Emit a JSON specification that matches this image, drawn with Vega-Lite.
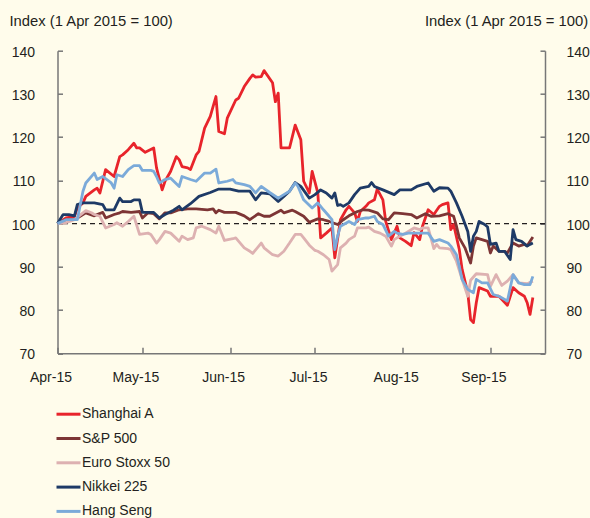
{
  "$schema": "https://vega.github.io/schema/vega-lite/v6.json",
  "width": 487.5,
  "height": 302.6,
  "autosize": "none",
  "padding": {"left": 57.5, "top": 50.7, "right": 45, "bottom": 164.7},
  "background": "#FFFCEB",
  "config": {
    "font": "Liberation Sans",
    "view": {"stroke": null},
    "axis": {"labelFontSize": 14, "labelColor": "#231F20", "titleFontSize": 14.8, "titleFontWeight": "normal", "titleColor": "#231F20", "domainColor": "#777777", "domainWidth": 1.5, "tickColor": "#777777", "tickWidth": 1.5, "grid": false}
  },
  "data": {"values": [
    {"date":"2015-04-01","series":"Shanghai A","value":100},
    {"date":"2015-04-04","series":"Shanghai A","value":101.3},
    {"date":"2015-04-07","series":"Shanghai A","value":101.7},
    {"date":"2015-04-08","series":"Shanghai A","value":103.6},
    {"date":"2015-04-10","series":"Shanghai A","value":104.8},
    {"date":"2015-04-11","series":"Shanghai A","value":106.3},
    {"date":"2015-04-14","series":"Shanghai A","value":107.8},
    {"date":"2015-04-15","series":"Shanghai A","value":108.2},
    {"date":"2015-04-16","series":"Shanghai A","value":107.1},
    {"date":"2015-04-18","series":"Shanghai A","value":112.5},
    {"date":"2015-04-21","series":"Shanghai A","value":110.9},
    {"date":"2015-04-23","series":"Shanghai A","value":115.5},
    {"date":"2015-04-24","series":"Shanghai A","value":115.9},
    {"date":"2015-04-26","series":"Shanghai A","value":117.1},
    {"date":"2015-04-28","series":"Shanghai A","value":118.6},
    {"date":"2015-04-29","series":"Shanghai A","value":117.5},
    {"date":"2015-04-30","series":"Shanghai A","value":117.5},
    {"date":"2015-05-02","series":"Shanghai A","value":116.5},
    {"date":"2015-05-05","series":"Shanghai A","value":117.5},
    {"date":"2015-05-06","series":"Shanghai A","value":112.9},
    {"date":"2015-05-08","series":"Shanghai A","value":107.8},
    {"date":"2015-05-09","series":"Shanghai A","value":109.8},
    {"date":"2015-05-11","series":"Shanghai A","value":112.1},
    {"date":"2015-05-13","series":"Shanghai A","value":115.5},
    {"date":"2015-05-14","series":"Shanghai A","value":114.8},
    {"date":"2015-05-15","series":"Shanghai A","value":113.2},
    {"date":"2015-05-17","series":"Shanghai A","value":112.9},
    {"date":"2015-05-18","series":"Shanghai A","value":112.5},
    {"date":"2015-05-20","series":"Shanghai A","value":115.9},
    {"date":"2015-05-21","series":"Shanghai A","value":116.7},
    {"date":"2015-05-23","series":"Shanghai A","value":122.1},
    {"date":"2015-05-25","series":"Shanghai A","value":124.8},
    {"date":"2015-05-26","series":"Shanghai A","value":127.1},
    {"date":"2015-05-27","series":"Shanghai A","value":129.4},
    {"date":"2015-05-28","series":"Shanghai A","value":121.3},
    {"date":"2015-05-30","series":"Shanghai A","value":120.8},
    {"date":"2015-05-31","series":"Shanghai A","value":124.4},
    {"date":"2015-06-03","series":"Shanghai A","value":128.6},
    {"date":"2015-06-04","series":"Shanghai A","value":129},
    {"date":"2015-06-06","series":"Shanghai A","value":131.7},
    {"date":"2015-06-08","series":"Shanghai A","value":133.6},
    {"date":"2015-06-09","series":"Shanghai A","value":134.4},
    {"date":"2015-06-10","series":"Shanghai A","value":133.9},
    {"date":"2015-06-12","series":"Shanghai A","value":134},
    {"date":"2015-06-13","series":"Shanghai A","value":135.4},
    {"date":"2015-06-16","series":"Shanghai A","value":132.6},
    {"date":"2015-06-17","series":"Shanghai A","value":128.2},
    {"date":"2015-06-18","series":"Shanghai A","value":130.2},
    {"date":"2015-06-19","series":"Shanghai A","value":117.5},
    {"date":"2015-06-22","series":"Shanghai A","value":117.5},
    {"date":"2015-06-24","series":"Shanghai A","value":122.8},
    {"date":"2015-06-26","series":"Shanghai A","value":119.4},
    {"date":"2015-06-27","series":"Shanghai A","value":109.8},
    {"date":"2015-06-29","series":"Shanghai A","value":107.1},
    {"date":"2015-06-30","series":"Shanghai A","value":112.1},
    {"date":"2015-07-02","series":"Shanghai A","value":107.1},
    {"date":"2015-07-03","series":"Shanghai A","value":96.7},
    {"date":"2015-07-05","series":"Shanghai A","value":97.8},
    {"date":"2015-07-07","series":"Shanghai A","value":99},
    {"date":"2015-07-08","series":"Shanghai A","value":92.1},
    {"date":"2015-07-10","series":"Shanghai A","value":100.9},
    {"date":"2015-07-12","series":"Shanghai A","value":103.2},
    {"date":"2015-07-13","series":"Shanghai A","value":104},
    {"date":"2015-07-15","series":"Shanghai A","value":102.5},
    {"date":"2015-07-16","series":"Shanghai A","value":100.5},
    {"date":"2015-07-17","series":"Shanghai A","value":102.8},
    {"date":"2015-07-19","series":"Shanghai A","value":104},
    {"date":"2015-07-20","series":"Shanghai A","value":104.8},
    {"date":"2015-07-22","series":"Shanghai A","value":105.5},
    {"date":"2015-07-23","series":"Shanghai A","value":108},
    {"date":"2015-07-25","series":"Shanghai A","value":105.5},
    {"date":"2015-07-26","series":"Shanghai A","value":100.5},
    {"date":"2015-07-28","series":"Shanghai A","value":96.3},
    {"date":"2015-07-30","series":"Shanghai A","value":99.4},
    {"date":"2015-07-31","series":"Shanghai A","value":96.7},
    {"date":"2015-08-02","series":"Shanghai A","value":95.9},
    {"date":"2015-08-04","series":"Shanghai A","value":94.9},
    {"date":"2015-08-05","series":"Shanghai A","value":97.9},
    {"date":"2015-08-07","series":"Shanghai A","value":96.3},
    {"date":"2015-08-08","series":"Shanghai A","value":99.4},
    {"date":"2015-08-10","series":"Shanghai A","value":103.2},
    {"date":"2015-08-12","series":"Shanghai A","value":102.1},
    {"date":"2015-08-14","series":"Shanghai A","value":104},
    {"date":"2015-08-15","series":"Shanghai A","value":104.4},
    {"date":"2015-08-17","series":"Shanghai A","value":104.8},
    {"date":"2015-08-18","series":"Shanghai A","value":98.6},
    {"date":"2015-08-19","series":"Shanghai A","value":99.8},
    {"date":"2015-08-21","series":"Shanghai A","value":94},
    {"date":"2015-08-22","series":"Shanghai A","value":89.4},
    {"date":"2015-08-24","series":"Shanghai A","value":84},
    {"date":"2015-08-25","series":"Shanghai A","value":77.8},
    {"date":"2015-08-26","series":"Shanghai A","value":77.1},
    {"date":"2015-08-27","series":"Shanghai A","value":81.7},
    {"date":"2015-08-28","series":"Shanghai A","value":85.2},
    {"date":"2015-08-31","series":"Shanghai A","value":84.4},
    {"date":"2015-09-01","series":"Shanghai A","value":83.2},
    {"date":"2015-09-04","series":"Shanghai A","value":83.2},
    {"date":"2015-09-05","series":"Shanghai A","value":82.5},
    {"date":"2015-09-07","series":"Shanghai A","value":81.1},
    {"date":"2015-09-09","series":"Shanghai A","value":85.2},
    {"date":"2015-09-11","series":"Shanghai A","value":84},
    {"date":"2015-09-13","series":"Shanghai A","value":83.2},
    {"date":"2015-09-14","series":"Shanghai A","value":81.7},
    {"date":"2015-09-15","series":"Shanghai A","value":79},
    {"date":"2015-09-16","series":"Shanghai A","value":82.9},

    {"date":"2015-04-01","series":"S&P 500","value":100},
    {"date":"2015-04-04","series":"S&P 500","value":100.9},
    {"date":"2015-04-07","series":"S&P 500","value":100.9},
    {"date":"2015-04-10","series":"S&P 500","value":102.1},
    {"date":"2015-04-11","series":"S&P 500","value":102.5},
    {"date":"2015-04-14","series":"S&P 500","value":101.8},
    {"date":"2015-04-15","series":"S&P 500","value":102.1},
    {"date":"2015-04-17","series":"S&P 500","value":102.6},
    {"date":"2015-04-18","series":"S&P 500","value":101.3},
    {"date":"2015-04-21","series":"S&P 500","value":102.1},
    {"date":"2015-04-23","series":"S&P 500","value":102.5},
    {"date":"2015-04-24","series":"S&P 500","value":102.8},
    {"date":"2015-04-27","series":"S&P 500","value":102.6},
    {"date":"2015-04-30","series":"S&P 500","value":102.8},
    {"date":"2015-05-01","series":"S&P 500","value":101.3},
    {"date":"2015-05-03","series":"S&P 500","value":102.5},
    {"date":"2015-05-05","series":"S&P 500","value":102.3},
    {"date":"2015-05-07","series":"S&P 500","value":101.1},
    {"date":"2015-05-09","series":"S&P 500","value":102.5},
    {"date":"2015-05-11","series":"S&P 500","value":102.5},
    {"date":"2015-05-14","series":"S&P 500","value":103.2},
    {"date":"2015-05-17","series":"S&P 500","value":103.4},
    {"date":"2015-05-20","series":"S&P 500","value":103.4},
    {"date":"2015-05-24","series":"S&P 500","value":103.2},
    {"date":"2015-05-26","series":"S&P 500","value":103.4},
    {"date":"2015-05-27","series":"S&P 500","value":102.5},
    {"date":"2015-05-28","series":"S&P 500","value":103.1},
    {"date":"2015-05-30","series":"S&P 500","value":102.6},
    {"date":"2015-06-03","series":"S&P 500","value":102.6},
    {"date":"2015-06-06","series":"S&P 500","value":101.8},
    {"date":"2015-06-08","series":"S&P 500","value":100.9},
    {"date":"2015-06-11","series":"S&P 500","value":102.3},
    {"date":"2015-06-13","series":"S&P 500","value":101.7},
    {"date":"2015-06-15","series":"S&P 500","value":101.7},
    {"date":"2015-06-19","series":"S&P 500","value":103.1},
    {"date":"2015-06-20","series":"S&P 500","value":102.5},
    {"date":"2015-06-23","series":"S&P 500","value":103.1},
    {"date":"2015-06-24","series":"S&P 500","value":102.8},
    {"date":"2015-06-27","series":"S&P 500","value":101.7},
    {"date":"2015-06-29","series":"S&P 500","value":100.3},
    {"date":"2015-07-02","series":"S&P 500","value":101.1},
    {"date":"2015-07-04","series":"S&P 500","value":100.9},
    {"date":"2015-07-06","series":"S&P 500","value":100.5},
    {"date":"2015-07-09","series":"S&P 500","value":99.8},
    {"date":"2015-07-11","series":"S&P 500","value":100.9},
    {"date":"2015-07-13","series":"S&P 500","value":101.8},
    {"date":"2015-07-16","series":"S&P 500","value":102.8},
    {"date":"2015-07-18","series":"S&P 500","value":103.2},
    {"date":"2015-07-20","series":"S&P 500","value":103.1},
    {"date":"2015-07-23","series":"S&P 500","value":102.5},
    {"date":"2015-07-25","series":"S&P 500","value":101.1},
    {"date":"2015-07-27","series":"S&P 500","value":100.9},
    {"date":"2015-07-29","series":"S&P 500","value":102.5},
    {"date":"2015-08-01","series":"S&P 500","value":102.3},
    {"date":"2015-08-04","series":"S&P 500","value":102.1},
    {"date":"2015-08-06","series":"S&P 500","value":101.3},
    {"date":"2015-08-09","series":"S&P 500","value":102.3},
    {"date":"2015-08-11","series":"S&P 500","value":101.7},
    {"date":"2015-08-14","series":"S&P 500","value":101.8},
    {"date":"2015-08-17","series":"S&P 500","value":102.3},
    {"date":"2015-08-19","series":"S&P 500","value":101.7},
    {"date":"2015-08-20","series":"S&P 500","value":99.4},
    {"date":"2015-08-21","series":"S&P 500","value":96.7},
    {"date":"2015-08-23","series":"S&P 500","value":94.4},
    {"date":"2015-08-25","series":"S&P 500","value":90.9},
    {"date":"2015-08-26","series":"S&P 500","value":94.8},
    {"date":"2015-08-27","series":"S&P 500","value":96.7},
    {"date":"2015-08-29","series":"S&P 500","value":96.3},
    {"date":"2015-08-31","series":"S&P 500","value":95.9},
    {"date":"2015-09-01","series":"S&P 500","value":93.2},
    {"date":"2015-09-02","series":"S&P 500","value":94.8},
    {"date":"2015-09-04","series":"S&P 500","value":93.6},
    {"date":"2015-09-06","series":"S&P 500","value":93.6},
    {"date":"2015-09-07","series":"S&P 500","value":93.2},
    {"date":"2015-09-09","series":"S&P 500","value":95.5},
    {"date":"2015-09-11","series":"S&P 500","value":94.8},
    {"date":"2015-09-13","series":"S&P 500","value":95.2},
    {"date":"2015-09-14","series":"S&P 500","value":94.9},
    {"date":"2015-09-16","series":"S&P 500","value":96.9},

    {"date":"2015-04-01","series":"Euro Stoxx 50","value":100},
    {"date":"2015-04-04","series":"Euro Stoxx 50","value":100.2},
    {"date":"2015-04-07","series":"Euro Stoxx 50","value":100.9},
    {"date":"2015-04-10","series":"Euro Stoxx 50","value":102.5},
    {"date":"2015-04-11","series":"Euro Stoxx 50","value":103},
    {"date":"2015-04-13","series":"Euro Stoxx 50","value":102.5},
    {"date":"2015-04-14","series":"Euro Stoxx 50","value":102.1},
    {"date":"2015-04-16","series":"Euro Stoxx 50","value":101.7},
    {"date":"2015-04-18","series":"Euro Stoxx 50","value":99},
    {"date":"2015-04-21","series":"Euro Stoxx 50","value":99.8},
    {"date":"2015-04-22","series":"Euro Stoxx 50","value":100.2},
    {"date":"2015-04-24","series":"Euro Stoxx 50","value":99.4},
    {"date":"2015-04-26","series":"Euro Stoxx 50","value":100.5},
    {"date":"2015-04-28","series":"Euro Stoxx 50","value":101.7},
    {"date":"2015-04-30","series":"Euro Stoxx 50","value":97.5},
    {"date":"2015-05-03","series":"Euro Stoxx 50","value":97.8},
    {"date":"2015-05-04","series":"Euro Stoxx 50","value":97.5},
    {"date":"2015-05-06","series":"Euro Stoxx 50","value":95.5},
    {"date":"2015-05-07","series":"Euro Stoxx 50","value":96.3},
    {"date":"2015-05-09","series":"Euro Stoxx 50","value":98.2},
    {"date":"2015-05-11","series":"Euro Stoxx 50","value":97.8},
    {"date":"2015-05-14","series":"Euro Stoxx 50","value":95.9},
    {"date":"2015-05-15","series":"Euro Stoxx 50","value":97.1},
    {"date":"2015-05-17","series":"Euro Stoxx 50","value":96.3},
    {"date":"2015-05-19","series":"Euro Stoxx 50","value":96.7},
    {"date":"2015-05-20","series":"Euro Stoxx 50","value":99},
    {"date":"2015-05-22","series":"Euro Stoxx 50","value":99.4},
    {"date":"2015-05-25","series":"Euro Stoxx 50","value":98.6},
    {"date":"2015-05-27","series":"Euro Stoxx 50","value":97.8},
    {"date":"2015-05-28","series":"Euro Stoxx 50","value":99.4},
    {"date":"2015-05-30","series":"Euro Stoxx 50","value":96.1},
    {"date":"2015-06-02","series":"Euro Stoxx 50","value":96.5},
    {"date":"2015-06-03","series":"Euro Stoxx 50","value":96.7},
    {"date":"2015-06-06","series":"Euro Stoxx 50","value":94.4},
    {"date":"2015-06-08","series":"Euro Stoxx 50","value":93.6},
    {"date":"2015-06-09","series":"Euro Stoxx 50","value":93.1},
    {"date":"2015-06-12","series":"Euro Stoxx 50","value":95.5},
    {"date":"2015-06-13","series":"Euro Stoxx 50","value":94.4},
    {"date":"2015-06-16","series":"Euro Stoxx 50","value":92.8},
    {"date":"2015-06-18","series":"Euro Stoxx 50","value":92.5},
    {"date":"2015-06-20","series":"Euro Stoxx 50","value":93.6},
    {"date":"2015-06-22","series":"Euro Stoxx 50","value":95.5},
    {"date":"2015-06-24","series":"Euro Stoxx 50","value":97.5},
    {"date":"2015-06-26","series":"Euro Stoxx 50","value":97.5},
    {"date":"2015-06-27","series":"Euro Stoxx 50","value":96.7},
    {"date":"2015-06-29","series":"Euro Stoxx 50","value":95},
    {"date":"2015-07-01","series":"Euro Stoxx 50","value":93.8},
    {"date":"2015-07-02","series":"Euro Stoxx 50","value":93.6},
    {"date":"2015-07-04","series":"Euro Stoxx 50","value":92.8},
    {"date":"2015-07-06","series":"Euro Stoxx 50","value":91.7},
    {"date":"2015-07-07","series":"Euro Stoxx 50","value":89},
    {"date":"2015-07-09","series":"Euro Stoxx 50","value":90.5},
    {"date":"2015-07-10","series":"Euro Stoxx 50","value":94.4},
    {"date":"2015-07-12","series":"Euro Stoxx 50","value":95.5},
    {"date":"2015-07-13","series":"Euro Stoxx 50","value":96.3},
    {"date":"2015-07-15","series":"Euro Stoxx 50","value":97.1},
    {"date":"2015-07-16","series":"Euro Stoxx 50","value":99},
    {"date":"2015-07-19","series":"Euro Stoxx 50","value":99},
    {"date":"2015-07-20","series":"Euro Stoxx 50","value":99.2},
    {"date":"2015-07-22","series":"Euro Stoxx 50","value":98.2},
    {"date":"2015-07-24","series":"Euro Stoxx 50","value":97.8},
    {"date":"2015-07-26","series":"Euro Stoxx 50","value":97.1},
    {"date":"2015-07-28","series":"Euro Stoxx 50","value":94.8},
    {"date":"2015-07-29","series":"Euro Stoxx 50","value":96.3},
    {"date":"2015-07-31","series":"Euro Stoxx 50","value":97.1},
    {"date":"2015-08-02","series":"Euro Stoxx 50","value":97.8},
    {"date":"2015-08-05","series":"Euro Stoxx 50","value":99},
    {"date":"2015-08-07","series":"Euro Stoxx 50","value":98.6},
    {"date":"2015-08-08","series":"Euro Stoxx 50","value":99},
    {"date":"2015-08-10","series":"Euro Stoxx 50","value":99},
    {"date":"2015-08-12","series":"Euro Stoxx 50","value":94.2},
    {"date":"2015-08-13","series":"Euro Stoxx 50","value":95.2},
    {"date":"2015-08-14","series":"Euro Stoxx 50","value":94.4},
    {"date":"2015-08-17","series":"Euro Stoxx 50","value":94.2},
    {"date":"2015-08-18","series":"Euro Stoxx 50","value":94},
    {"date":"2015-08-20","series":"Euro Stoxx 50","value":91.3},
    {"date":"2015-08-22","series":"Euro Stoxx 50","value":87.1},
    {"date":"2015-08-24","series":"Euro Stoxx 50","value":83.2},
    {"date":"2015-08-25","series":"Euro Stoxx 50","value":86.9},
    {"date":"2015-08-27","series":"Euro Stoxx 50","value":88.4},
    {"date":"2015-08-31","series":"Euro Stoxx 50","value":88.2},
    {"date":"2015-09-01","series":"Euro Stoxx 50","value":85.5},
    {"date":"2015-09-03","series":"Euro Stoxx 50","value":88.2},
    {"date":"2015-09-05","series":"Euro Stoxx 50","value":85.7},
    {"date":"2015-09-07","series":"Euro Stoxx 50","value":86.7},
    {"date":"2015-09-09","series":"Euro Stoxx 50","value":88.2},
    {"date":"2015-09-11","series":"Euro Stoxx 50","value":86.3},
    {"date":"2015-09-14","series":"Euro Stoxx 50","value":86.1},
    {"date":"2015-09-16","series":"Euro Stoxx 50","value":86.7},

    {"date":"2015-04-01","series":"Nikkei 225","value":100},
    {"date":"2015-04-03","series":"Nikkei 225","value":102.1},
    {"date":"2015-04-05","series":"Nikkei 225","value":102.1},
    {"date":"2015-04-07","series":"Nikkei 225","value":101.8},
    {"date":"2015-04-08","series":"Nikkei 225","value":104.4},
    {"date":"2015-04-10","series":"Nikkei 225","value":104.8},
    {"date":"2015-04-14","series":"Nikkei 225","value":104.8},
    {"date":"2015-04-17","series":"Nikkei 225","value":104.4},
    {"date":"2015-04-18","series":"Nikkei 225","value":103.2},
    {"date":"2015-04-21","series":"Nikkei 225","value":103.2},
    {"date":"2015-04-23","series":"Nikkei 225","value":105.9},
    {"date":"2015-04-24","series":"Nikkei 225","value":105.1},
    {"date":"2015-04-27","series":"Nikkei 225","value":105.1},
    {"date":"2015-04-28","series":"Nikkei 225","value":105.5},
    {"date":"2015-04-30","series":"Nikkei 225","value":105.5},
    {"date":"2015-05-01","series":"Nikkei 225","value":102.6},
    {"date":"2015-05-05","series":"Nikkei 225","value":102.6},
    {"date":"2015-05-07","series":"Nikkei 225","value":101.3},
    {"date":"2015-05-09","series":"Nikkei 225","value":102.1},
    {"date":"2015-05-12","series":"Nikkei 225","value":103.1},
    {"date":"2015-05-14","series":"Nikkei 225","value":104},
    {"date":"2015-05-15","series":"Nikkei 225","value":103.2},
    {"date":"2015-05-18","series":"Nikkei 225","value":104.6},
    {"date":"2015-05-21","series":"Nikkei 225","value":106.3},
    {"date":"2015-05-25","series":"Nikkei 225","value":107.2},
    {"date":"2015-05-28","series":"Nikkei 225","value":108},
    {"date":"2015-06-01","series":"Nikkei 225","value":108},
    {"date":"2015-06-04","series":"Nikkei 225","value":107.5},
    {"date":"2015-06-08","series":"Nikkei 225","value":107.5},
    {"date":"2015-06-10","series":"Nikkei 225","value":105.5},
    {"date":"2015-06-12","series":"Nikkei 225","value":107.1},
    {"date":"2015-06-15","series":"Nikkei 225","value":106.9},
    {"date":"2015-06-18","series":"Nikkei 225","value":105.1},
    {"date":"2015-06-20","series":"Nikkei 225","value":106.3},
    {"date":"2015-06-22","series":"Nikkei 225","value":107.5},
    {"date":"2015-06-24","series":"Nikkei 225","value":109.5},
    {"date":"2015-06-26","series":"Nikkei 225","value":108.6},
    {"date":"2015-06-29","series":"Nikkei 225","value":105.9},
    {"date":"2015-07-01","series":"Nikkei 225","value":106.7},
    {"date":"2015-07-03","series":"Nikkei 225","value":107.8},
    {"date":"2015-07-05","series":"Nikkei 225","value":107.1},
    {"date":"2015-07-07","series":"Nikkei 225","value":105.9},
    {"date":"2015-07-08","series":"Nikkei 225","value":107.1},
    {"date":"2015-07-09","series":"Nikkei 225","value":104.2},
    {"date":"2015-07-10","series":"Nikkei 225","value":104.4},
    {"date":"2015-07-11","series":"Nikkei 225","value":104},
    {"date":"2015-07-13","series":"Nikkei 225","value":104.8},
    {"date":"2015-07-15","series":"Nikkei 225","value":106.7},
    {"date":"2015-07-17","series":"Nikkei 225","value":108.2},
    {"date":"2015-07-20","series":"Nikkei 225","value":108.6},
    {"date":"2015-07-21","series":"Nikkei 225","value":109.5},
    {"date":"2015-07-22","series":"Nikkei 225","value":108.6},
    {"date":"2015-07-25","series":"Nikkei 225","value":107.8},
    {"date":"2015-07-29","series":"Nikkei 225","value":106.7},
    {"date":"2015-07-31","series":"Nikkei 225","value":107.8},
    {"date":"2015-08-04","series":"Nikkei 225","value":107.8},
    {"date":"2015-08-06","series":"Nikkei 225","value":108.6},
    {"date":"2015-08-10","series":"Nikkei 225","value":109.4},
    {"date":"2015-08-12","series":"Nikkei 225","value":107.5},
    {"date":"2015-08-14","series":"Nikkei 225","value":108.3},
    {"date":"2015-08-17","series":"Nikkei 225","value":108.2},
    {"date":"2015-08-18","series":"Nikkei 225","value":107.5},
    {"date":"2015-08-20","series":"Nikkei 225","value":104.8},
    {"date":"2015-08-22","series":"Nikkei 225","value":101.7},
    {"date":"2015-08-24","series":"Nikkei 225","value":98.2},
    {"date":"2015-08-25","series":"Nikkei 225","value":93.6},
    {"date":"2015-08-26","series":"Nikkei 225","value":97.1},
    {"date":"2015-08-27","series":"Nikkei 225","value":98.2},
    {"date":"2015-08-28","series":"Nikkei 225","value":100.5},
    {"date":"2015-08-30","series":"Nikkei 225","value":99.8},
    {"date":"2015-08-31","series":"Nikkei 225","value":99.2},
    {"date":"2015-09-01","series":"Nikkei 225","value":95.2},
    {"date":"2015-09-03","series":"Nikkei 225","value":95.5},
    {"date":"2015-09-04","series":"Nikkei 225","value":93.6},
    {"date":"2015-09-06","series":"Nikkei 225","value":93.6},
    {"date":"2015-09-08","series":"Nikkei 225","value":91.7},
    {"date":"2015-09-09","series":"Nikkei 225","value":98.6},
    {"date":"2015-09-10","series":"Nikkei 225","value":96.3},
    {"date":"2015-09-12","series":"Nikkei 225","value":95.9},
    {"date":"2015-09-14","series":"Nikkei 225","value":94.8},
    {"date":"2015-09-15","series":"Nikkei 225","value":95.2},
    {"date":"2015-09-16","series":"Nikkei 225","value":95.5},

    {"date":"2015-04-01","series":"Hang Seng","value":100},
    {"date":"2015-04-04","series":"Hang Seng","value":100.9},
    {"date":"2015-04-08","series":"Hang Seng","value":100.9},
    {"date":"2015-04-10","series":"Hang Seng","value":107.5},
    {"date":"2015-04-11","series":"Hang Seng","value":109.4},
    {"date":"2015-04-14","series":"Hang Seng","value":111.7},
    {"date":"2015-04-15","series":"Hang Seng","value":110.2},
    {"date":"2015-04-17","series":"Hang Seng","value":110.9},
    {"date":"2015-04-20","series":"Hang Seng","value":109.4},
    {"date":"2015-04-21","series":"Hang Seng","value":108.2},
    {"date":"2015-04-22","series":"Hang Seng","value":111.3},
    {"date":"2015-04-24","series":"Hang Seng","value":110.9},
    {"date":"2015-04-26","series":"Hang Seng","value":112.5},
    {"date":"2015-04-28","series":"Hang Seng","value":113.4},
    {"date":"2015-04-30","series":"Hang Seng","value":113.4},
    {"date":"2015-05-01","series":"Hang Seng","value":112.3},
    {"date":"2015-05-04","series":"Hang Seng","value":112.3},
    {"date":"2015-05-05","series":"Hang Seng","value":112.1},
    {"date":"2015-05-06","series":"Hang Seng","value":110.9},
    {"date":"2015-05-07","series":"Hang Seng","value":109.4},
    {"date":"2015-05-09","series":"Hang Seng","value":110.2},
    {"date":"2015-05-11","series":"Hang Seng","value":110.5},
    {"date":"2015-05-14","series":"Hang Seng","value":108.6},
    {"date":"2015-05-15","series":"Hang Seng","value":110.9},
    {"date":"2015-05-18","series":"Hang Seng","value":110.2},
    {"date":"2015-05-20","series":"Hang Seng","value":109.8},
    {"date":"2015-05-23","series":"Hang Seng","value":111.7},
    {"date":"2015-05-25","series":"Hang Seng","value":111.7},
    {"date":"2015-05-27","series":"Hang Seng","value":112.6},
    {"date":"2015-05-28","series":"Hang Seng","value":109.4},
    {"date":"2015-05-31","series":"Hang Seng","value":109.8},
    {"date":"2015-06-02","series":"Hang Seng","value":110.2},
    {"date":"2015-06-03","series":"Hang Seng","value":109.4},
    {"date":"2015-06-06","series":"Hang Seng","value":109},
    {"date":"2015-06-08","series":"Hang Seng","value":108.6},
    {"date":"2015-06-10","series":"Hang Seng","value":107.1},
    {"date":"2015-06-12","series":"Hang Seng","value":108.6},
    {"date":"2015-06-15","series":"Hang Seng","value":107.2},
    {"date":"2015-06-18","series":"Hang Seng","value":105.9},
    {"date":"2015-06-20","series":"Hang Seng","value":106.7},
    {"date":"2015-06-22","series":"Hang Seng","value":107.5},
    {"date":"2015-06-24","series":"Hang Seng","value":109.4},
    {"date":"2015-06-25","series":"Hang Seng","value":108.6},
    {"date":"2015-06-27","series":"Hang Seng","value":105.5},
    {"date":"2015-06-30","series":"Hang Seng","value":103.6},
    {"date":"2015-07-02","series":"Hang Seng","value":104.8},
    {"date":"2015-07-04","series":"Hang Seng","value":103.2},
    {"date":"2015-07-06","series":"Hang Seng","value":101.7},
    {"date":"2015-07-07","series":"Hang Seng","value":100.9},
    {"date":"2015-07-08","series":"Hang Seng","value":94},
    {"date":"2015-07-09","series":"Hang Seng","value":97.1},
    {"date":"2015-07-10","series":"Hang Seng","value":99.4},
    {"date":"2015-07-13","series":"Hang Seng","value":100.5},
    {"date":"2015-07-15","series":"Hang Seng","value":99.8},
    {"date":"2015-07-16","series":"Hang Seng","value":100.9},
    {"date":"2015-07-19","series":"Hang Seng","value":101.3},
    {"date":"2015-07-20","series":"Hang Seng","value":101.3},
    {"date":"2015-07-22","series":"Hang Seng","value":101.7},
    {"date":"2015-07-23","series":"Hang Seng","value":100.5},
    {"date":"2015-07-25","series":"Hang Seng","value":99.8},
    {"date":"2015-07-27","series":"Hang Seng","value":97.1},
    {"date":"2015-07-29","series":"Hang Seng","value":98.2},
    {"date":"2015-07-30","series":"Hang Seng","value":97.8},
    {"date":"2015-08-01","series":"Hang Seng","value":97.5},
    {"date":"2015-08-03","series":"Hang Seng","value":97.8},
    {"date":"2015-08-05","series":"Hang Seng","value":97.8},
    {"date":"2015-08-10","series":"Hang Seng","value":97.8},
    {"date":"2015-08-12","series":"Hang Seng","value":95.9},
    {"date":"2015-08-14","series":"Hang Seng","value":96.3},
    {"date":"2015-08-17","series":"Hang Seng","value":95.5},
    {"date":"2015-08-18","series":"Hang Seng","value":94.8},
    {"date":"2015-08-20","series":"Hang Seng","value":92.8},
    {"date":"2015-08-21","series":"Hang Seng","value":90.1},
    {"date":"2015-08-22","series":"Hang Seng","value":87.1},
    {"date":"2015-08-24","series":"Hang Seng","value":84.8},
    {"date":"2015-08-26","series":"Hang Seng","value":84},
    {"date":"2015-08-27","series":"Hang Seng","value":87.1},
    {"date":"2015-08-29","series":"Hang Seng","value":86.3},
    {"date":"2015-08-31","series":"Hang Seng","value":86.3},
    {"date":"2015-09-02","series":"Hang Seng","value":83.6},
    {"date":"2015-09-04","series":"Hang Seng","value":83.2},
    {"date":"2015-09-07","series":"Hang Seng","value":82.1},
    {"date":"2015-09-09","series":"Hang Seng","value":88.2},
    {"date":"2015-09-11","series":"Hang Seng","value":86.3},
    {"date":"2015-09-13","series":"Hang Seng","value":85.9},
    {"date":"2015-09-15","series":"Hang Seng","value":85.9},
    {"date":"2015-09-16","series":"Hang Seng","value":87.8}
  ]},
  "layer": [
    {
      "data": {"values": [{"value": 100}]},
      "mark": {"type": "rule", "strokeDash": [5, 4], "color": "#231F20", "strokeWidth": 1.2},
      "encoding": {
        "y": {"field": "value", "type": "quantitative",
          "scale": {"domain": [70, 140], "nice": false, "zero": false},
          "axis": {"orient": "right", "values": [70, 80, 90, 100, 110, 120, 130, 140], "tickSize": -5, "labelPadding": 26, "labelOffset": 1.5,
            "title": "Index (1 Apr 2015 = 100)", "titleAngle": 0, "titleAlign": "right", "titleBaseline": "middle", "titleX": 42.7, "titleY": -29}}
      }
    },
    {
      "mark": {"type": "line", "strokeWidth": 2.8, "strokeJoin": "round"},
      "encoding": {
        "x": {"field": "date", "type": "temporal",
          "scale": {"type": "utc", "domain": [{"year": 2015, "month": 4, "date": 1, "utc": true}, {"year": 2015, "month": 9, "date": 20, "hours": 7, "utc": true}]},
          "axis": {"title": null, "format": "%b-%y", "tickSize": -6, "labelPadding": 23, "labelOffset": -7, "labelFlush": false, "labelOverlap": false,
            "values": [
              {"year": 2015, "month": 4, "date": 1, "utc": true},
              {"year": 2015, "month": 5, "date": 1, "utc": true},
              {"year": 2015, "month": 6, "date": 1, "utc": true},
              {"year": 2015, "month": 7, "date": 1, "utc": true},
              {"year": 2015, "month": 8, "date": 1, "utc": true},
              {"year": 2015, "month": 9, "date": 1, "utc": true}
            ]}},
        "y": {"field": "value", "type": "quantitative",
          "scale": {"domain": [70, 140], "nice": false, "zero": false},
          "axis": {"orient": "left", "values": [70, 80, 90, 100, 110, 120, 130, 140], "tickSize": -5, "labelPadding": 28, "labelOffset": 1.5,
            "title": "Index (1 Apr 2015 = 100)", "titleAngle": 0, "titleAlign": "left", "titleBaseline": "middle", "titleX": -48.5, "titleY": -29}},
        "color": {"field": "series", "type": "nominal",
          "scale": {"domain": ["Shanghai A", "S&P 500", "Euro Stoxx 50", "Nikkei 225", "Hang Seng"],
                    "range": ["#E8242B", "#7D3535", "#DDB1B1", "#1E3A66", "#7BAAD9"]},
          "legend": {"orient": "none", "legendX": -2.5, "legendY": 350, "title": null, "symbolType": "stroke", "symbolSize": 576, "symbolStrokeWidth": 3,
            "labelFontSize": 14, "labelColor": "#231F20", "labelOffset": 0, "rowPadding": 3.3, "padding": 0, "direction": "vertical"}}
      }
    }
  ],
  "resolve": {"axis": {"y": "independent"}}
}
